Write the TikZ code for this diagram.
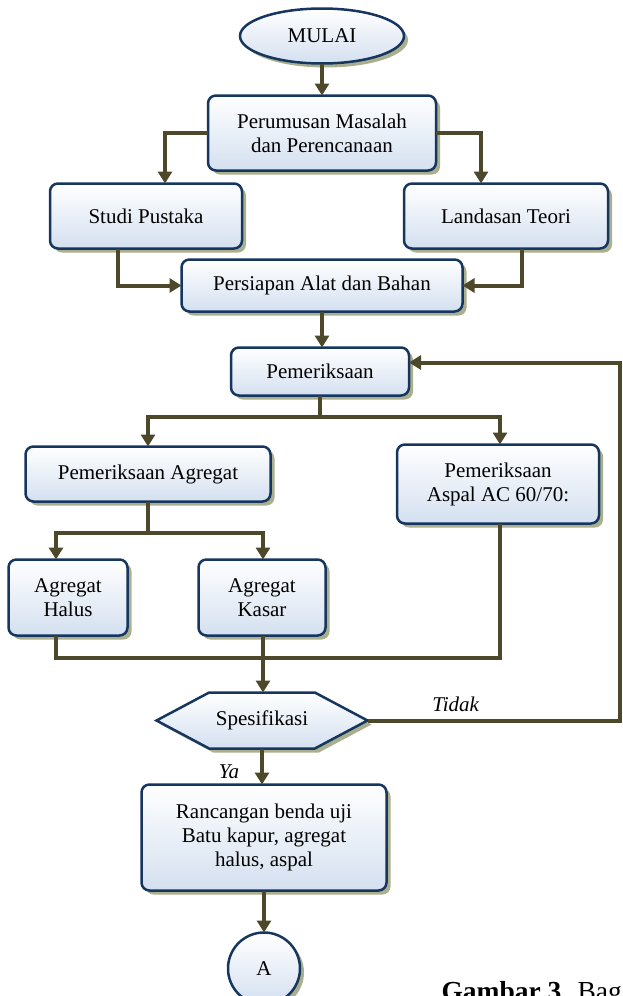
\documentclass[tikz,border=0pt]{standalone}
\usepackage{fontspec}
\setmainfont{Liberation Serif}
\usetikzlibrary{shapes.geometric, shapes.symbols, shadows, positioning, arrows.meta}
\definecolor{edgecol}{RGB}{22,54,96}
\definecolor{linecol}{RGB}{78,72,42}
\definecolor{shadecol}{RGB}{170,176,142}
\definecolor{fillcol}{RGB}{212,224,240}
\tikzset{every node/.style={font=\fontsize{21}{24}\selectfont}, % Times-like text
base/.style={ % Common look of all boxes
draw=edgecol, line width=2.5pt,
top color=white, bottom color=fillcol,
drop shadow={shadow xshift=4pt, shadow yshift=-4pt, fill=shadecol, opacity=1},
align=center, inner sep=2pt, outer sep=0pt},
box/.style={base, rectangle, rounded corners=8pt},
terminal/.style={base, ellipse},
decision/.style={base, signal, signal to=east and west, signal pointer angle=56},
connector/.style={base, circle},
line/.style={ % Connectors
draw=linecol, line width=4pt},
arr/.style={line, -{Triangle[width=14pt,length=12pt]}},
lbl/.style={font=\fontsize{21}{24}\selectfont\itshape, inner sep=1pt}}

\begin{document}
\begin{tikzpicture}[x=1pt,y=-1pt]
    \useasboundingbox (0,0) rectangle (623,996);

    \node[terminal, minimum width=164pt, minimum height=55pt] (mulai) at (322,36) {MULAI};
    \node[box, below=32pt of mulai, minimum width=228pt, minimum height=75pt] (rumus) {Perumusan Masalah\\dan Perencanaan};
    \node[box, below=13pt of rumus, xshift=-176pt, minimum width=192pt, minimum height=65pt] (studi) {Studi Pustaka};
    \node[box, below=13pt of rumus, xshift=184pt, minimum width=204pt, minimum height=65pt] (teori) {Landasan Teori};
    \node[box, below=89pt of rumus, minimum width=281pt, minimum height=52pt] (siap) {Persiapan Alat dan Bahan};
    \node[box, below=36pt of siap, xshift=-2pt, minimum width=178pt, minimum height=48pt] (periksa) {Pemeriksaan};
    \node[box, below=51pt of periksa, xshift=-172pt, minimum width=245pt, minimum height=55pt] (agregat) {Pemeriksaan Agregat};
    \node[box, below=49pt of periksa, xshift=178pt, minimum width=202pt, minimum height=79pt] (aspal) {Pemeriksaan\\Aspal AC 60/70:};
    \node[box, below=58pt of agregat, xshift=-80pt, minimum width=119pt, minimum height=76pt] (halus) {Agregat\\Halus};
    \node[box, below=58pt of agregat, xshift=114pt, minimum width=127pt, minimum height=76pt] (kasar) {Agregat\\Kasar};
    \node[decision, below=57pt of kasar, minimum width=211pt, minimum height=56pt] (spek) {Spesifikasi};
    \node[box, below=36pt of spek, xshift=2pt, minimum width=245pt, minimum height=106pt] (rancang) {Rancangan benda uji\\Batu kapur, agregat\\halus, aspal};
    \node[connector, below=42pt of rancang, minimum size=72pt] (A) {A};

    \node[anchor=base west, font=\fontsize{27.5}{30}\selectfont] (judul) at (438,1000) {\textbf{Gambar 3.} Bag};

    \draw[arr] (mulai) -- (rumus);
    \draw[arr] (rumus.west) -| ([xshift=19pt]studi.north);
    \draw[arr] (rumus.east) -| ([xshift=-25pt]teori.north);
    \draw[arr] ([xshift=-28pt]studi.south) |- (siap.west);
    \draw[arr] ([xshift=16pt]teori.south) |- (siap.east);
    \draw[arr] (siap.south) -- (siap.south |- periksa.north);
    \draw[arr] (periksa.south) -- ++(0,21) -| (agregat.north);
    \draw[arr] (periksa.south) -- ++(0,21) -| ([xshift=2pt]aspal.north);
    \draw[arr] (agregat.south) -- ++(0,31) -| ([xshift=-12pt]halus.north);
    \draw[arr] (agregat.south) -- ++(0,31) -| ([xshift=1pt]kasar.north);
    \draw[line] ([xshift=-12pt]halus.south) -- ++(0,22) -| ([xshift=2pt]aspal.south);
    \draw[arr] ([xshift=1pt]kasar.south) -- ([xshift=1pt]kasar.south |- spek.north);
    \draw[arr] (spek.east) -- node[lbl, above=6pt, pos=0.35] {Tidak} ++(252,0) |- ([yshift=9pt]periksa.east);
    \draw[arr] (spek.south) -- node[lbl, left=20pt, pos=0.65] {Ya} (spek.south |- rancang.north);
    \draw[arr] (rancang) -- (A);

\end{tikzpicture}
\end{document}
